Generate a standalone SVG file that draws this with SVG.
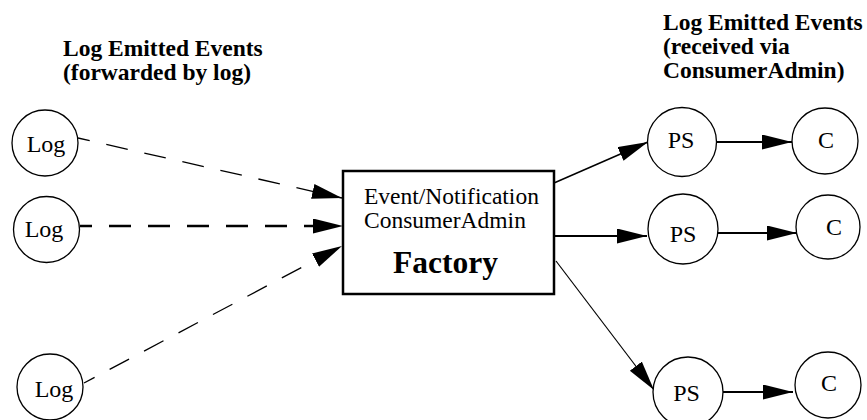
<svg xmlns="http://www.w3.org/2000/svg" width="867" height="420" viewBox="0 0 867 420">
  <style>
    text { font-family: "Liberation Serif", "Times New Roman", "DejaVu Serif", serif; fill: #000; }
    .hdr { font-size: 23.5px; font-weight: bold; }
    .lbl { font-size: 24px; text-anchor: middle; }
    .node { fill: #fff; stroke: #000; stroke-width: 1.3; }
    .box { fill: #fff; stroke: #000; stroke-width: 2.5; }
    .edge { fill: none; stroke: #000; marker-end: url(#arrow); }
    .dash { stroke-dasharray: 22 17; }
  </style>
  <defs>
    <marker id="arrow" markerUnits="userSpaceOnUse" markerWidth="32" markerHeight="16" refX="30" refY="7.5" orient="auto" viewBox="0 0 32 16">
      <path d="M0,0 L30,7.5 L0,15 Z" fill="#000"/>
    </marker>
  </defs>

  <rect width="867" height="420" fill="#fff"/>

  <!-- headings -->
  <g id="heading-left">
    <text class="hdr" x="63" y="56">Log Emitted Events</text>
    <text class="hdr" x="63" y="80">(forwarded by log)</text>
  </g>
  <g id="heading-right">
    <text class="hdr" x="663" y="30">Log Emitted Events</text>
    <text class="hdr" x="663" y="54">(received via</text>
    <text class="hdr" x="663" y="78">ConsumerAdmin)</text>
  </g>

  <!-- connectors -->
  <g id="connectors">
    <line class="edge dash" x1="78" y1="138" x2="342" y2="198" stroke-width="1.3" stroke-dashoffset="10"/>
    <line class="edge dash" x1="80" y1="226" x2="343" y2="226" stroke-width="2.5" stroke-dashoffset="10"/>
    <line class="edge dash" x1="84" y1="383" x2="342" y2="246" stroke-width="1.3" stroke-dashoffset="10"/>
    <line class="edge" x1="554" y1="183" x2="648" y2="142" stroke-width="1.5"/>
    <line class="edge" x1="554" y1="236" x2="647" y2="236" stroke-width="2"/>
    <line class="edge" x1="556" y1="261" x2="654" y2="390" stroke-width="1.2"/>
    <line class="edge" x1="717" y1="142" x2="792" y2="142" stroke-width="2"/>
    <line class="edge" x1="717" y1="233" x2="797" y2="233" stroke-width="2"/>
    <line class="edge" x1="723" y1="392" x2="793" y2="392" stroke-width="2"/>
  </g>

  <!-- log sources -->
  <g id="log1">
    <circle class="node" cx="45" cy="143" r="33"/>
    <text class="lbl" x="46" y="152">Log</text>
  </g>
  <g id="log2">
    <circle class="node" cx="46.5" cy="229.5" r="33"/>
    <text class="lbl" x="44" y="237">Log</text>
  </g>
  <g id="log3">
    <circle class="node" cx="50" cy="387" r="33"/>
    <text class="lbl" x="54" y="397">Log</text>
  </g>

  <!-- factory -->
  <g id="factory">
    <rect class="box" x="343" y="171" width="211" height="123"/>
    <text x="364" y="204" font-size="23.5">Event/Notification</text>
    <text x="364" y="228" font-size="23.5">ConsumerAdmin</text>
    <text x="393" y="273" font-size="31.5" font-weight="bold">Factory</text>
  </g>

  <!-- proxy suppliers -->
  <g id="ps1">
    <circle class="node" cx="682" cy="142" r="34.5"/>
    <text class="lbl" x="681" y="148">PS</text>
  </g>
  <g id="ps2">
    <circle class="node" cx="683" cy="229" r="35"/>
    <text class="lbl" x="683" y="242">PS</text>
  </g>
  <g id="ps3">
    <circle class="node" cx="688" cy="392" r="35"/>
    <text class="lbl" x="686.5" y="401">PS</text>
  </g>

  <!-- consumers -->
  <g id="c1">
    <circle class="node" cx="825" cy="141" r="33"/>
    <text class="lbl" x="826" y="148">C</text>
  </g>
  <g id="c2">
    <circle class="node" cx="828" cy="227" r="32"/>
    <text class="lbl" x="834" y="235">C</text>
  </g>
  <g id="c3">
    <circle class="node" cx="828" cy="385" r="33"/>
    <text class="lbl" x="829" y="391">C</text>
  </g>
</svg>
